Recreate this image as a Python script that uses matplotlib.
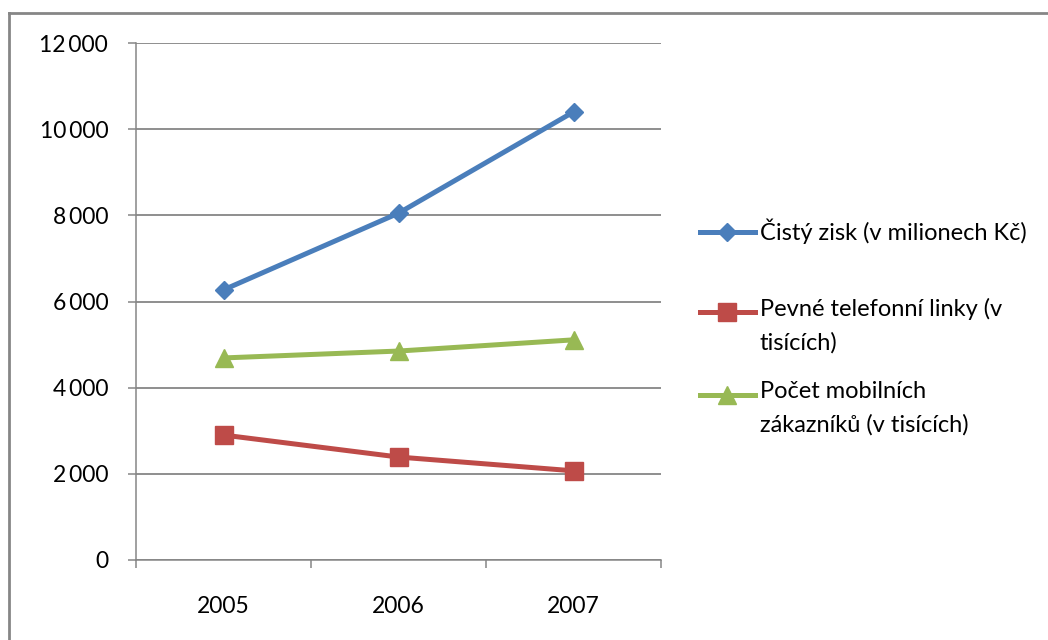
import matplotlib.pyplot as plt
from matplotlib.lines import Line2D
from matplotlib.ticker import FuncFormatter

plt.rcParams['font.family'] = ['Lato', 'DejaVu Sans']

years = ['2005', '2006', '2007']
zisk = [6270, 8050, 10400]
pevne = [2900, 2390, 2070]
mobil = [4690, 4850, 5110]
labels = ['Čistý zisk (v milionech Kč)',
          'Pevné telefonní linky (v\ntisících)',
          'Počet mobilních\nzákazníků (v tisících)']

colors = ['#4A7EBB', '#BE4B48', '#98B954']
markers = ['D', 's', '^']
msizes = [9.5, 13, 13]

fig = plt.figure(figsize=(10.48, 6.4), dpi=100)
ax = fig.add_axes([136/1048, 1-560/640, (661-136)/1048, (560-43)/640])

x = range(len(years))
for i, vals in enumerate([zisk, pevne, mobil]):
    ax.plot(x, vals, color=colors[i], lw=3.6, marker=markers[i], ms=msizes[i],
            solid_capstyle='round', zorder=3)

ax.set_ylim(0, 12000)
ax.set_yticks(range(0, 12001, 2000))
ax.yaxis.set_major_formatter(FuncFormatter(lambda v, p: f'{int(v):,}'.replace(',', '\u2009')))
ax.set_xlim(-0.5, 2.5)
ax.set_xticks(list(x))
ax.set_xticklabels(years)
ax.set_xticks([-0.5, 0.5, 1.5, 2.5], minor=True)

ax.grid(axis='y', color='#868686', lw=1.3)
ax.set_axisbelow(True)
for s in ['top', 'right']:
    ax.spines[s].set_visible(False)
for s in ['left', 'bottom']:
    ax.spines[s].set_color('#868686')
    ax.spines[s].set_linewidth(1.1)

ax.tick_params(axis='y', length=6, color='#868686', width=1.1, pad=14, labelsize=16.5)
ax.tick_params(axis='x', which='major', length=0, pad=26, labelsize=16.5)
ax.tick_params(axis='x', which='minor', length=6, color='#868686', width=1.1)

# legend drawn by hand so the marker sits on the first text line
leg_y = [232, 312, 395]
for i in range(3):
    yf = 1 - leg_y[i]/640
    fig.add_artist(Line2D([700/1048, 755/1048], [yf, yf], color=colors[i], lw=3.6))
    fig.add_artist(Line2D([727/1048], [yf], color=colors[i], marker=markers[i],
                          ms=msizes[i], lw=0))
    fig.text(760/1048, yf + 14/640, labels[i], fontsize=17, va='top', ha='left',
             linespacing=1.68)

# chart frame (only top and left edges visible)
fig.add_artist(Line2D([9/1048, 1], [1-13/640, 1-13/640], color='#868686', lw=2))
fig.add_artist(Line2D([9/1048, 9/1048], [0, 1-13/640], color='#868686', lw=2))

fig.savefig('out.png', dpi=100)
